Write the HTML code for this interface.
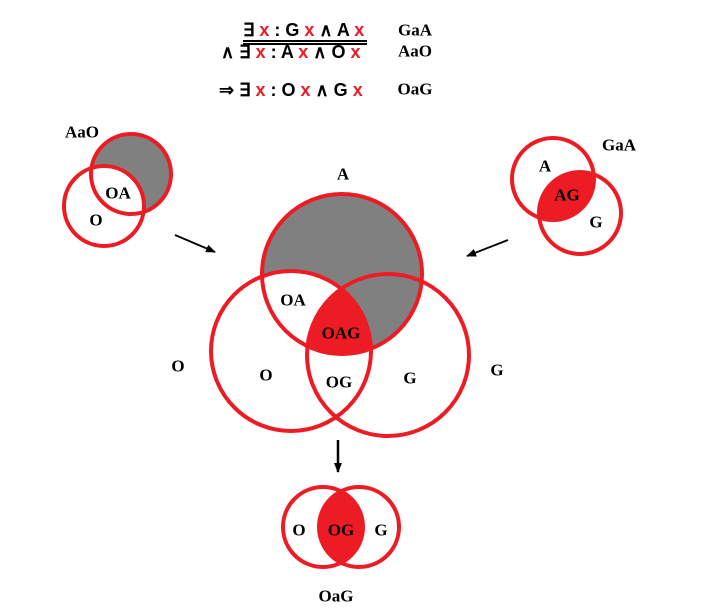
<!DOCTYPE html>
<html><head><meta charset="utf-8"><style>
html,body{margin:0;padding:0;background:#fff;}
svg{display:block;}
.l{font-family:"Liberation Serif",serif;font-weight:bold;font-size:17px;fill:#000;text-anchor:middle;dominant-baseline:central;}
.f{font-family:"Liberation Sans",sans-serif;font-weight:bold;font-size:18px;fill:#000;}
.r{fill:#ed1c24;}
</style></head><body>
<svg width="703" height="616" viewBox="0 0 703 616" xmlns="http://www.w3.org/2000/svg">
<defs>
<clipPath id="cA"><circle cx="342" cy="274" r="80"/></clipPath>
<clipPath id="cO"><circle cx="291" cy="351" r="80"/></clipPath>
<mask id="mNotO"><rect width="703" height="616" fill="#fff"/><circle cx="291" cy="351" r="80" fill="#000"/></mask>
<mask id="mNotO2"><rect width="703" height="616" fill="#fff"/><circle cx="104" cy="206" r="40" fill="#000"/></mask>
<clipPath id="sA"><circle cx="553" cy="179" r="41"/></clipPath>
<clipPath id="bO"><circle cx="323" cy="527" r="40"/></clipPath>
<marker id="ah" markerWidth="10" markerHeight="8" refX="9" refY="4" orient="auto" markerUnits="userSpaceOnUse"><path d="M0,0 L10,4 L0,8 Z" fill="#000"/></marker>
</defs>

<!-- formulas -->
<text class="f" x="243" y="36"><tspan>∃ </tspan><tspan class="r">x</tspan><tspan> : G </tspan><tspan class="r">x</tspan><tspan> ∧ A </tspan><tspan class="r">x</tspan></text>
<rect x="243" y="40" width="124" height="2" fill="#000"/>
<rect x="243" y="43" width="124" height="2" fill="#000"/>
<text class="f" x="221" y="58"><tspan>∧ ∃ </tspan><tspan class="r">x</tspan><tspan> : A </tspan><tspan class="r">x</tspan><tspan> ∧ O </tspan><tspan class="r">x</tspan></text>
<text class="f" x="219" y="96"><tspan>⇒ ∃ </tspan><tspan class="r">x</tspan><tspan> : O </tspan><tspan class="r">x</tspan><tspan> ∧ G </tspan><tspan class="r">x</tspan></text>
<text class="l" x="415" y="30">GaA</text>
<text class="l" x="415" y="51">AaO</text>
<text class="l" x="415" y="89">OaG</text>

<!-- small left AaO -->
<circle cx="131" cy="174" r="40" fill="#808080" mask="url(#mNotO2)"/>
<circle cx="131" cy="174" r="40" fill="none" stroke="#ed1c24" stroke-width="4"/>
<circle cx="104" cy="206" r="40" fill="none" stroke="#ed1c24" stroke-width="4"/>
<text class="l" x="82" y="132">AaO</text>
<text class="l" x="118" y="193">OA</text>
<text class="l" x="96" y="220">O</text>

<!-- small right GaA -->
<circle cx="580" cy="213" r="41" fill="#ed1c24" clip-path="url(#sA)"/>
<circle cx="553" cy="179" r="41" fill="none" stroke="#ed1c24" stroke-width="4"/>
<circle cx="580" cy="213" r="41" fill="none" stroke="#ed1c24" stroke-width="4"/>
<text class="l" x="545" y="166">A</text>
<text class="l" x="567" y="195">AG</text>
<text class="l" x="596" y="222">G</text>
<text class="l" x="619" y="145">GaA</text>

<!-- arrows -->
<line x1="175" y1="235" x2="215" y2="252" stroke="#000" stroke-width="1.8" marker-end="url(#ah)"/>
<line x1="508" y1="240" x2="467" y2="256" stroke="#000" stroke-width="1.8" marker-end="url(#ah)"/>
<line x1="338" y1="440" x2="338" y2="472" stroke="#000" stroke-width="2.5" marker-end="url(#ah)"/>

<!-- big diagram -->
<circle cx="342" cy="274" r="80" fill="#808080" mask="url(#mNotO)"/>
<g clip-path="url(#cA)"><g clip-path="url(#cO)"><circle cx="388" cy="355" r="81" fill="#ed1c24"/></g></g>
<circle cx="342" cy="274" r="80" fill="none" stroke="#ed1c24" stroke-width="4"/>
<circle cx="291" cy="351" r="80" fill="none" stroke="#ed1c24" stroke-width="4"/>
<circle cx="388" cy="355" r="81" fill="none" stroke="#ed1c24" stroke-width="4"/>
<text class="l" x="343" y="174">A</text>
<text class="l" x="178" y="366">O</text>
<text class="l" x="497" y="370">G</text>
<text class="l" x="293" y="300">OA</text>
<text class="l" x="341" y="333">OAG</text>
<text class="l" x="266" y="375">O</text>
<text class="l" x="339" y="382">OG</text>
<text class="l" x="410" y="378">G</text>

<!-- bottom OaG -->
<circle cx="359" cy="527" r="40" fill="#ed1c24" clip-path="url(#bO)"/>
<circle cx="323" cy="527" r="40" fill="none" stroke="#ed1c24" stroke-width="4"/>
<circle cx="359" cy="527" r="40" fill="none" stroke="#ed1c24" stroke-width="4"/>
<text class="l" x="299" y="530">O</text>
<text class="l" x="341" y="530">OG</text>
<text class="l" x="381" y="530">G</text>
<text class="l" x="336" y="596">OaG</text>
</svg>
</body></html>
